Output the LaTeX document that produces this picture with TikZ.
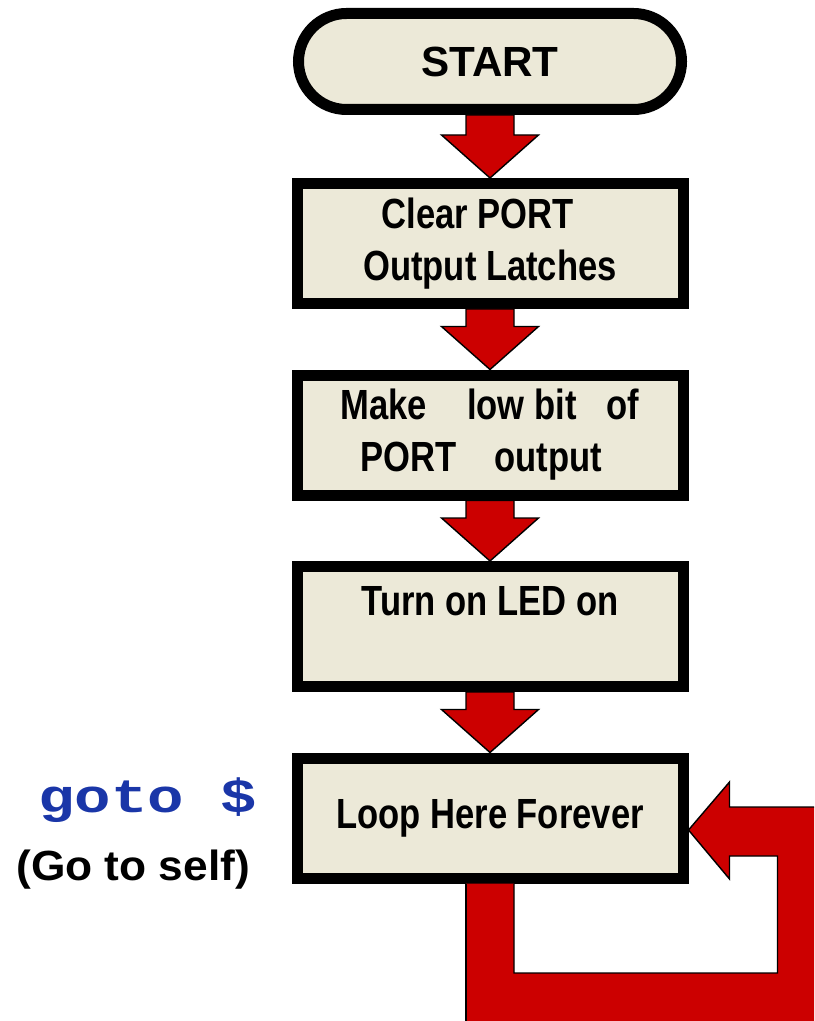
\documentclass[tikz,border=0pt]{standalone}
\usepackage{fontspec}
\setmainfont{Liberation Sans}
\newfontfamily\boxfont{Liberation Sans}[FakeStretch=0.82]
\newfontfamily\codefont{Liberation Mono}[FakeStretch=1.28]
\newfontfamily\notefont{Liberation Sans}[FakeStretch=1.05]
\usetikzlibrary{positioning,calc,shapes.misc}

\definecolor{boxbeige}{HTML}{ECE9D8}
\definecolor{arrowred}{HTML}{CC0000}
\definecolor{codeblue}{HTML}{1A36A8}

\tikzset{
  terminal/.style={rounded rectangle, draw, line width=0.22cm, fill=boxbeige,
    minimum width=7.66cm, minimum height=1.92cm, inner sep=0pt,
    font=\fontsize{24}{29.6}\selectfont\bfseries},
  process/.style={rectangle, draw, line width=0.22cm, fill=boxbeige,
    minimum width=7.72cm, minimum height=2.4cm, inner sep=0pt, align=center,
    font=\boxfont\fontsize{24}{29.6}\selectfont\bfseries},
  flowarrow/.style={fill=arrowred, draw=black, line width=0.8pt, line join=miter},
  edgeline/.style={draw=black, line width=0.8pt, line join=miter}
}

\begin{document}
\begin{tikzpicture}
    \useasboundingbox (0,0) rectangle (16.28,-20.42);
    \coordinate (pageright) at (16.28,0);
    \coordinate (pagebottom) at (0,-20.42);

    % flowchart
    \node[terminal] (start) at (9.8,-1.23) {START};
    \node[process, below=1.26cm of start] (clear) {Clear PORT\hspace*{0.5cm}\\Output Latches};
    \node[process, below=1.21cm of clear] (make) {Make\hspace*{0.8cm}low bit\hspace*{0.6cm}of\\PORT\hspace*{0.76cm}output\hspace*{0.36cm}};
    \node[process, below=1.21cm of make] (turn) {Turn on LED on\\\mbox{}};
    \node[process, below=1.21cm of turn] (loop) {Loop Here Forever};

    \foreach \a/\b in {start/clear, clear/make, make/turn, turn/loop}
        \draw[flowarrow] ($(\a.south)+(-0.48,0)$) -- ($(\a.south)+(0.48,0)$)
            -- ($(\b.north)+(0.48,0.86)$) -- ($(\b.north)+(0.97,0.86)$) -- (\b.north)
            -- ($(\b.north)+(-0.97,0.86)$) -- ($(\b.north)+(-0.48,0.86)$) -- cycle;

    % loop back into itself, cut off by the page edge
    \coordinate (lf) at ($(loop.south)+(-0.48,0)$);
    \coordinate (rt) at ($(loop.south)+(0.48,0)$);
    \coordinate (tip) at ($(loop.east)+(0,-0.24)$);
    \coordinate (hb) at ($(tip)+(0.82,0.46)$);
    \coordinate (ht) at ($(tip)+(0.82,0.96)$);
    \coordinate (hl) at ($(tip)+(0.82,-0.98)$);
    \coordinate (hs) at ($(tip)+(0.82,-0.52)$);
    \coordinate (ir) at ($(tip)+(1.78,-0.52)$);
    \coordinate (ib) at ($(ir)+(0,-2.34)$);
    \fill[arrowred] (lf) -- (lf |- pagebottom) -- (pagebottom -| pageright) -- (hb -| pageright)
        -- (hb) -- (ht) -- (tip) -- (hl) -- (hs) -- (ir) -- (ib) -- (rt |- ib) -- (rt) -- cycle;
    \draw[edgeline] (hb -| pageright) -- (hb) -- (ht) -- (tip) -- (hl) -- (hs) -- (ir) -- (ib)
        -- (rt |- ib) -- (rt);
    \draw[edgeline] (lf) -- (lf |- pagebottom);

    % side note
    \node[anchor=base west, inner sep=0pt, text=codeblue, font=\codefont\fontsize{27}{30}\selectfont\bfseries] (gotoline) at (0.76,-16.24) {goto \$};
    \node[anchor=base west, inner sep=0pt, font=\notefont\fontsize{24}{28}\selectfont\bfseries] (selfnote) at (0.32,-17.6) {(Go to self)};
\end{tikzpicture}
\end{document}
